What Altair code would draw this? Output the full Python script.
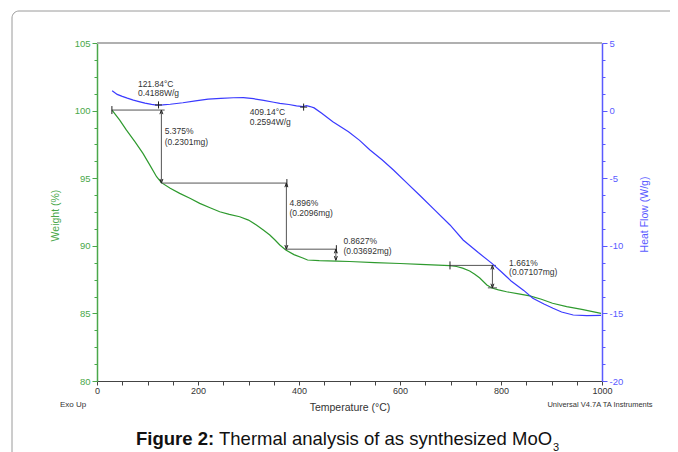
import altair as alt
import pandas as pd
import numpy as np

# ---- Weight (TGA) curve ----
T_w = [29.7, 45, 58, 75, 91, 105, 118, 127.5, 145, 163.8, 185, 203.4, 225, 243, 262, 282.6, 300,
       315.6, 330, 342.2, 352, 362, 373.9, 390, 407.5, 417, 440, 474, 500, 550, 600, 640, 699, 712,
       724, 738, 748, 758, 772, 782, 795, 811, 835, 857, 880, 902, 930, 960, 998]
W = [100.04, 99.3, 98.57, 97.7, 96.84, 95.95, 95.11, 94.67, 94.25, 93.88, 93.5, 93.14, 92.8, 92.52,
     92.32, 92.15, 91.9, 91.54, 91.15, 90.80, 90.45, 90.06, 89.69, 89.35, 89.10, 88.95, 88.9, 88.87,
     88.84, 88.76, 88.69, 88.63, 88.53, 88.47, 88.35, 88.14, 87.9, 87.62, 87.1, 86.88, 86.74, 86.6,
     86.45, 86.29, 86.05, 85.75, 85.5, 85.3, 85.0]

# ---- Heat flow (DSC) curve ----
T_hf = [30, 40, 50, 60, 72, 85, 95, 108, 118, 130, 145, 170, 195, 220, 245, 270, 290, 310, 330, 350,
        362, 380, 395, 408, 415, 422, 430, 445, 467, 498, 520, 540, 565, 587, 615, 640, 670, 699, 725,
        755, 782, 800, 820, 845, 863, 885, 903, 920, 943, 970, 998]
HF = [1.47, 1.2, 1.05, 0.92, 0.78, 0.65, 0.55, 0.46, 0.41, 0.42, 0.47, 0.58, 0.72, 0.85, 0.9, 0.95,
      0.96, 0.88, 0.75, 0.62, 0.54, 0.45, 0.35, 0.29, 0.36, 0.3, 0.2, -0.2, -0.82, -1.56, -2.2, -2.9,
      -3.65, -4.39, -5.4, -6.3, -7.4, -8.46, -9.57, -10.5, -11.3, -11.9, -12.6, -13.3, -13.88, -14.3,
      -14.62, -14.9, -15.12, -15.17, -15.15]

# ---- weight-loss step annotations ----
step_T = [127.5, 375, 473, 783]
step_top = [100.04, 94.64, 89.75, 88.55]
step_bot = [94.64, 89.75, 88.93, 86.89]
h_x1 = [29.5, 127.5, 372, 699, 774]
h_x2 = [134, 376, 474, 790, 792]
h_y = [100.04, 94.64, 89.75, 88.55, 86.89]
tick_T = [29.5, 376, 474, 699]
tick_W = [100.04, 94.64, 89.75, 88.55]
step_pct = ["5.375%", "4.896%", "0.8627%", "1.661%"]
step_mass = ["(0.2301mg)", "(0.2096mg)", "(0.03692mg)", "(0.07107mg)"]
lab_T = [134, 381, 488, 816]
lab_W1 = [98.49, 93.17, 90.36, 88.75]
lab_W2 = [97.68, 92.43, 89.62, 88.04]

# ---- heat-flow peak annotations ----
peak_T = [121.84, 409.14]
peak_HF = [0.4188, 0.2594]
peak_l1 = ["121.84°C", "409.14°C"]
peak_l2 = ["0.4188W/g", "0.2594W/g"]
peak_lab_T = [81, 302.4]
peak_lab_HF1 = [1.97, -0.13]
peak_lab_HF2 = [1.28, -0.84]

GREEN_AX = "#4aa84a"
GREEN = "#2e9a2e"
BLUE_AX = "#5a5aff"
BLUE = "#3a3aff"
GRAY = "#555555"
TXT = "#333333"
FONT = "Liberation Sans"

scale_t = alt.Scale(domain=[0, 1000], nice=False, zero=False)
scale_w = alt.Scale(domain=[80, 105], nice=False, zero=False)
scale_hf = alt.Scale(domain=[-20, 5], nice=False, zero=False)

axis_t = alt.Axis(values=list(range(0, 1001, 50)),
                  labelExpr="datum.value % 200 === 0 ? '' + datum.value : ''",
                  grid=False, domainColor="#444", tickColor="#444", tickSize=4,
                  labelFontSize=9, labelColor=TXT, labelFlush=False, labelOverlap=False,
                  labelPadding=1, title="Temperature (°C)", titleFontSize=10.5,
                  titleFontWeight="normal", titleColor=TXT, titleY=26, titleBaseline="middle")

wvals = [float(v) for v in np.arange(80, 105.01, 1.25)]
hvals = [float(v) for v in np.arange(-20, 5.01, 1.25)]
lab5 = "datum.value % 5 === 0 ? '' + datum.value : ''"
tick5 = {"condition": {"test": "datum.value % 5 === 0", "value": 5}, "value": 3}

axis_w = alt.Axis(values=wvals, labelExpr=lab5, tickSize=tick5, grid=False,
                  domainColor=GREEN_AX, tickColor=GREEN_AX, labelColor=GREEN_AX,
                  labelFontSize=9.5, labelFlush=False, labelOverlap=False, labelPadding=2,
                  title="Weight (%)", titleColor=GREEN_AX, titleFontSize=10.5,
                  titleFontWeight="normal", titleX=-42, titleY=172, titleAngle=270,
                  titleAlign="center", titleBaseline="middle", domainWidth=1.5)
axis_hf = alt.Axis(orient="right", values=hvals, labelExpr=lab5, tickSize=tick5, grid=False,
                   domainColor=BLUE_AX, tickColor=BLUE_AX, labelColor=BLUE_AX,
                   labelFontSize=9.5, labelFlush=False, labelOverlap=False, labelPadding=2,
                   title="Heat Flow (W/g)", titleColor=BLUE_AX, titleFontSize=10.5,
                   titleFontWeight="normal", titleX=42, titleY=171, titleAngle=270,
                   titleAlign="center", titleBaseline="middle", domainWidth=1.5)

xT = alt.X("T:Q", scale=scale_t, axis=axis_t)
yW = alt.Y("W:Q", scale=scale_w, axis=axis_w)
yH = alt.Y("HF:Q", scale=scale_hf, axis=axis_hf)

df_w = pd.DataFrame({"T": T_w, "W": W})
df_h = pd.DataFrame({"T": T_hf, "HF": HF})
df_step = pd.DataFrame({"T": step_T, "W": step_top, "W2": step_bot})
df_hl = pd.DataFrame({"T": h_x1, "T2": h_x2, "W": h_y})
df_tick = pd.DataFrame({"T": tick_T, "W": tick_W})
df_lab = pd.DataFrame({"T": lab_T, "W1": lab_W1, "W2": lab_W2, "p": step_pct, "m": step_mass})
df_peak = pd.DataFrame({"T": peak_T, "HF": peak_HF})
df_plab = pd.DataFrame({"T": peak_lab_T, "H1": peak_lab_HF1, "H2": peak_lab_HF2,
                        "a": peak_l1, "b": peak_l2})
one = pd.DataFrame({"a": [0]})

UP = "M-0.55,1.5L0,0L0.55,1.5"
DOWN = "M-0.55,-1.5L0,0L0.55,-1.5"
VT = "M0,-1L0,1"
PLUS = "M-1,0L1,0M0,-1L0,1"

frame = alt.Chart(one).mark_rect(fillOpacity=0, stroke="#9a9a9a", strokeWidth=1, cornerRadius=7).encode(
    x=alt.value(-85), x2=alt.value(700), y=alt.value(-32), y2=alt.value(500))
topline = alt.Chart(one).mark_rule(color="#b0b0b0", strokeWidth=2).encode(
    x=alt.value(0), x2=alt.value(505), y=alt.value(0))

gline = alt.Chart(df_w).mark_line(color=GREEN, strokeWidth=1.2).encode(x=xT, y=yW)
hrules = alt.Chart(df_hl).mark_rule(color=GRAY, strokeWidth=1).encode(x=xT, x2="T2:Q", y=yW)
vrules = alt.Chart(df_step).mark_rule(color=GRAY, strokeWidth=1).encode(x=xT, y=yW, y2="W2:Q")
up = alt.Chart(df_step).mark_point(shape=UP, filled=False, size=30, color="#222", strokeWidth=1,
                                   opacity=1).encode(x=xT, y=yW)
down = alt.Chart(df_step).mark_point(shape=DOWN, filled=False, size=30, color="#222", strokeWidth=1,
                                     opacity=1).encode(x=xT, y=alt.Y("W2:Q", scale=scale_w, axis=axis_w))
ticks = alt.Chart(df_tick).mark_point(shape=VT, filled=False, size=64, color="#222", strokeWidth=1,
                                      opacity=1).encode(x=xT, y=yW)
t1 = alt.Chart(df_lab).mark_text(align="left", baseline="middle", fontSize=8.5, color=TXT).encode(
    x=xT, y=alt.Y("W1:Q", scale=scale_w, axis=axis_w), text="p:N")
t2 = alt.Chart(df_lab).mark_text(align="left", baseline="middle", fontSize=8.5, color=TXT).encode(
    x=xT, y=alt.Y("W2:Q", scale=scale_w, axis=axis_w), text="m:N")

exo = alt.Chart(one).mark_text(fontSize=8, color=TXT, baseline="middle").encode(
    x=alt.value(-24), y=alt.value(362), text=alt.value("Exo Up"))
univ = alt.Chart(one).mark_text(fontSize=7.5, color=TXT, baseline="middle").encode(
    x=alt.value(503), y=alt.value(362), text=alt.value("Universal V4.7A TA Instruments"))
cap1 = alt.Chart(one).mark_text(fontSize=18.5, fontWeight="bold", color="#111", align="left",
                                baseline="middle").encode(
    x=alt.value(39), y=alt.value(396), text=alt.value("Figure 2:"))
cap2 = alt.Chart(one).mark_text(fontSize=18.5, color="#111", align="left", baseline="middle").encode(
    x=alt.value(122), y=alt.value(396), text=alt.value("Thermal analysis of as synthesized MoO"))
cap3 = alt.Chart(one).mark_text(fontSize=11, color="#111", align="left", baseline="middle").encode(
    x=alt.value(456), y=alt.value(405), text=alt.value("3"))

green_group = alt.layer(frame, topline, gline, hrules, vrules, up, down, ticks, t1, t2,
                        exo, univ, cap1, cap2, cap3)

bline = alt.Chart(df_h).mark_line(color=BLUE, strokeWidth=1.2).encode(x=xT, y=yH)
plus = alt.Chart(df_peak).mark_point(shape=PLUS, filled=False, size=50, color="#222", strokeWidth=1,
                                     opacity=1).encode(x=xT, y=yH)
p1 = alt.Chart(df_plab).mark_text(align="left", baseline="middle", fontSize=8.5, color=TXT).encode(
    x=xT, y=alt.Y("H1:Q", scale=scale_hf, axis=axis_hf), text="a:N")
p2 = alt.Chart(df_plab).mark_text(align="left", baseline="middle", fontSize=8.5, color=TXT).encode(
    x=xT, y=alt.Y("H2:Q", scale=scale_hf, axis=axis_hf), text="b:N")
blue_group = alt.layer(bline, plus, p1, p2)

chart = alt.layer(green_group, blue_group).resolve_scale(y="independent").properties(
    width=505, height=338,
    autosize=alt.AutoSizeParams(type="none"),
    padding={"left": 89, "top": 35, "right": 68, "bottom": 71},
).configure_view(stroke=None).configure(font=FONT)

chart.save("out.html", embed_options={"renderer": "svg", "actions": False})
